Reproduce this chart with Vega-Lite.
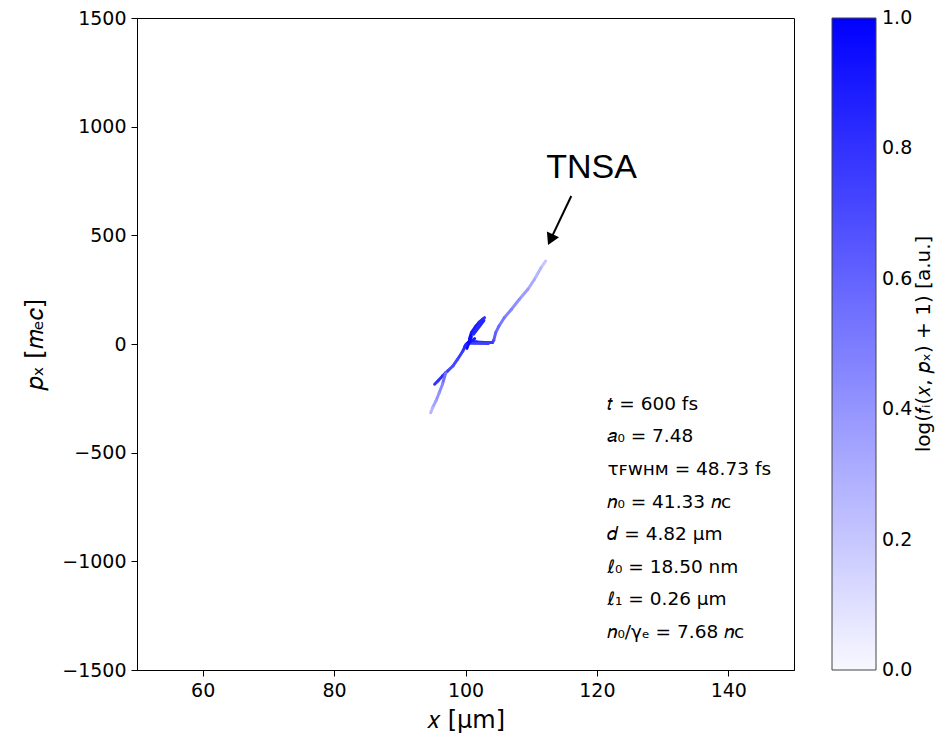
{
  "$schema": "https://vega.github.io/schema/vega-lite/v6.json",
  "autosize": "none",
  "width": 657,
  "height": 652,
  "padding": {"left": 137, "top": 18, "right": 144, "bottom": 74},
  "background": "white",
  "config": {
    "font": "DejaVu Sans",
    "view": {"stroke": "black", "strokeWidth": 1},
    "axis": {
      "grid": false,
      "domainColor": "black",
      "tickColor": "black",
      "labelColor": "black",
      "titleColor": "black",
      "labelFont": "DejaVu Sans",
      "labelFontSize": 19,
      "titleFont": "DejaVu Sans",
      "titleFontSize": 24,
      "titleFontWeight": "normal",
      "tickSize": 6,
      "labelPadding": 5,
      "format": "d"
    }
  },
  "datasets": {
    "segs": [
      {"x": 112.2, "y": 382, "x2": 111.5, "y2": 351, "v": 0.2},
      {"x": 111.5, "y": 351, "x2": 110.5, "y2": 298, "v": 0.27},
      {"x": 110.5, "y": 298, "x2": 109.5, "y2": 252, "v": 0.32},
      {"x": 109.5, "y": 252, "x2": 108.2, "y2": 206, "v": 0.37},
      {"x": 108.2, "y": 206, "x2": 107.0, "y2": 160, "v": 0.42},
      {"x": 107.0, "y": 160, "x2": 105.9, "y2": 121, "v": 0.47},
      {"x": 105.9, "y": 121, "x2": 105.1, "y2": 83, "v": 0.52},
      {"x": 105.1, "y": 83, "x2": 104.6, "y2": 52, "v": 0.57},
      {"x": 104.6, "y": 52, "x2": 104.3, "y2": 17, "v": 0.62},
      {"x": 104.3, "y": 17, "x2": 104.1, "y2": 7, "v": 0.68},
      {"x": 104.1, "y": 7, "x2": 102.9, "y2": 7, "v": 0.78},
      {"x": 102.9, "y": 7, "x2": 101.7, "y2": 9, "v": 0.83},
      {"x": 101.7, "y": 9, "x2": 100.6, "y2": 14, "v": 0.9},
      {"x": 103.5, "y": 2, "x2": 100.5, "y2": 4, "v": 0.75},
      {"x": 100.6, "y": 23, "x2": 100.9, "y2": 52, "v": 0.95},
      {"x": 100.9, "y": 52, "x2": 101.6, "y2": 83, "v": 0.9},
      {"x": 101.6, "y": 83, "x2": 102.1, "y2": 101, "v": 0.87},
      {"x": 102.1, "y": 101, "x2": 102.6, "y2": 114, "v": 0.85},
      {"x": 102.6, "y": 114, "x2": 102.9, "y2": 121, "v": 0.8},
      {"x": 101.2, "y": 45, "x2": 102.8, "y2": 108, "v": 0.85},
      {"x": 99.9, "y": -10, "x2": 101.4, "y2": 25, "v": 0.9},
      {"x": 100.2, "y": -20, "x2": 100.9, "y2": 35, "v": 0.95},
      {"x": 100.6, "y": 14, "x2": 100.1, "y2": -1, "v": 0.95},
      {"x": 100.1, "y": -1, "x2": 99.6, "y2": -32, "v": 0.85},
      {"x": 99.6, "y": -32, "x2": 98.8, "y2": -70, "v": 0.77},
      {"x": 98.8, "y": -70, "x2": 98.1, "y2": -101, "v": 0.72},
      {"x": 98.1, "y": -101, "x2": 97.3, "y2": -124, "v": 0.7},
      {"x": 97.3, "y": -124, "x2": 97.0, "y2": -132, "v": 0.72},
      {"x": 97.0, "y": -132, "x2": 96.5, "y2": -147, "v": 0.8},
      {"x": 96.5, "y": -147, "x2": 95.8, "y2": -170, "v": 0.82},
      {"x": 95.8, "y": -170, "x2": 95.3, "y2": -185, "v": 0.8},
      {"x": 97.0, "y": -132, "x2": 96.5, "y2": -185, "v": 0.55},
      {"x": 96.5, "y": -185, "x2": 96.0, "y2": -224, "v": 0.45},
      {"x": 96.0, "y": -224, "x2": 95.5, "y2": -262, "v": 0.4},
      {"x": 95.5, "y": -262, "x2": 95.0, "y2": -293, "v": 0.35},
      {"x": 95.0, "y": -293, "x2": 94.7, "y2": -316, "v": 0.28}
    ],
    "notes": [
      {"x": 121.6, "y": -275, "label": "𝑡 = 600 fs"},
      {"x": 121.6, "y": -425, "label": "𝑎₀ = 7.48"},
      {"x": 121.6, "y": -575, "label": "τꜰᴡʜᴍ = 48.73 fs"},
      {"x": 121.6, "y": -725, "label": "𝑛₀ = 41.33 𝑛ᴄ"},
      {"x": 121.6, "y": -875, "label": "𝑑 = 4.82 μm"},
      {"x": 121.6, "y": -1025, "label": "ℓ₀ = 18.50 nm"},
      {"x": 121.6, "y": -1175, "label": "ℓ₁ = 0.26 μm"},
      {"x": 121.6, "y": -1325, "label": "𝑛₀/γₑ = 7.68 𝑛ᴄ"}
    ],
    "tnsa": [{"x": 119.2, "y": 764, "label": "TNSA"}],
    "shaft": [{"x": 116.1, "y": 681, "x2": 112.94, "y2": 480}],
    "head": [{"x": 112.94, "y": 480}]
  },
  "layer": [
    {
      "data": {"name": "segs"},
      "mark": {"type": "rule", "strokeCap": "round", "strokeWidth": 3},
      "encoding": {
        "x": {
          "field": "x", "type": "quantitative",
          "scale": {"domain": [50, 150], "nice": false, "zero": false},
          "axis": {"values": [60, 80, 100, 120, 140], "title": "𝑥 [μm]", "titlePadding": 8}
        },
        "y": {
          "field": "y", "type": "quantitative",
          "scale": {"domain": [-1500, 1500], "nice": false, "zero": false},
          "axis": {"values": [-1500, -1000, -500, 0, 500, 1000, 1500], "title": "𝑝ₓ [𝑚ₑ𝑐]", "titlePadding": 14}
        },
        "x2": {"field": "x2"},
        "y2": {"field": "y2"},
        "color": {
          "field": "v", "type": "quantitative",
          "scale": {"domain": [0, 1], "range": ["#f8f8ff", "#0000ff"], "interpolate": "rgb"},
          "legend": {
            "type": "gradient",
            "orient": "right",
            "offset": 38,
            "direction": "vertical",
            "gradientLength": 652,
            "gradientThickness": 44,
            "gradientStrokeColor": "#444444",
            "gradientStrokeWidth": 1,
            "values": [0, 0.2, 0.4, 0.6, 0.8, 1],
            "format": ".1f",
            "labelFontSize": 19,
            "labelFont": "DejaVu Sans",
            "labelColor": "black",
            "labelOffset": 6,
            "labelOverlap": false,
            "title": "log(𝑓ᵢ(𝑥, 𝑝ₓ) + 1) [a.u.]",
            "titleOrient": "right",
            "titleFontSize": 20,
            "titleFont": "DejaVu Sans",
            "titleFontWeight": "normal",
            "titleColor": "black",
            "titleAnchor": "middle",
            "titlePadding": 2,
            "titleLimit": 800,
            "padding": 0,
            "encode": {
              "title": {"update": {"angle": {"value": -90}, "baseline": {"value": "top"}}},
              "labels": {"update": {"baseline": {"value": "middle"}}}
            }
          }
        }
      }
    },
    {
      "data": {"name": "notes"},
      "mark": {"type": "text", "align": "left", "baseline": "middle", "fontSize": 18.5, "font": "DejaVu Sans", "color": "black"},
      "encoding": {
        "x": {"field": "x", "type": "quantitative"},
        "y": {"field": "y", "type": "quantitative"},
        "text": {"field": "label"}
      }
    },
    {
      "data": {"name": "tnsa"},
      "mark": {"type": "text", "align": "center", "baseline": "alphabetic", "fontSize": 34, "font": "Liberation Sans", "color": "black"},
      "encoding": {
        "x": {"field": "x", "type": "quantitative"},
        "y": {"field": "y", "type": "quantitative"},
        "text": {"field": "label"}
      }
    },
    {
      "data": {"name": "shaft"},
      "mark": {"type": "rule", "strokeWidth": 2, "color": "black"},
      "encoding": {
        "x": {"field": "x", "type": "quantitative"},
        "y": {"field": "y", "type": "quantitative"},
        "x2": {"field": "x2"},
        "y2": {"field": "y2"}
      }
    },
    {
      "data": {"name": "head"},
      "mark": {"type": "point", "shape": "triangle-down", "filled": true, "color": "black", "size": 180, "angle": 25, "opacity": 1},
      "encoding": {
        "x": {"field": "x", "type": "quantitative"},
        "y": {"field": "y", "type": "quantitative"}
      }
    }
  ]
}
